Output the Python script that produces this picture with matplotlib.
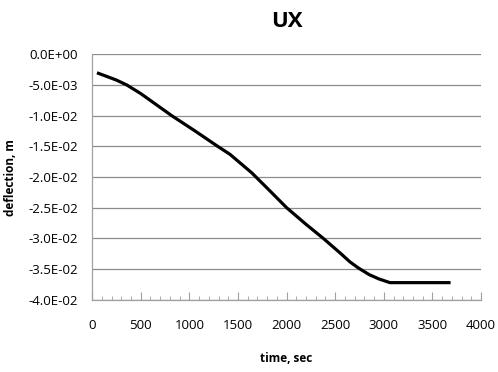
import numpy as np
import matplotlib.pyplot as plt
from matplotlib.ticker import MultipleLocator, FuncFormatter

# deflection history
time_s = [65, 150, 250, 357, 500, 819, 1050, 1292, 1418, 1641, 1800,
          2001, 2200, 2378, 2560, 2650, 2737, 2850, 2950, 3063, 3670]
ux_m = [-0.0031, -0.0036, -0.0042, -0.0050, -0.0064, -0.0100, -0.0124,
        -0.0150, -0.0163, -0.0193, -0.0218, -0.0250, -0.0277, -0.0300,
        -0.0325, -0.0338, -0.0348, -0.0359, -0.0366, -0.0372, -0.0372]

plt.rcParams['font.family'] = ['Open Sans', 'DejaVu Sans']

fig = plt.figure(figsize=(4.98, 3.72), dpi=100)
ax = fig.add_axes([0.185, 0.194, 0.781, 0.66])

ax.plot(time_s, ux_m, color='black', lw=2.3, solid_joinstyle='round')

ax.set_xlim(0, 4000)
ax.set_ylim(-0.04, 0)
ax.xaxis.set_major_locator(MultipleLocator(500))
ax.xaxis.set_minor_locator(MultipleLocator(100))
ax.yaxis.set_major_locator(MultipleLocator(0.005))


def sci(v, pos):
    s = f"{v:.1E}"
    return s.replace("-0.0E", "0.0E")


ax.yaxis.set_major_formatter(FuncFormatter(sci))

ax.grid(axis='y', color='#8c8c8c', lw=0.9)
ax.set_axisbelow(True)
for s in ['top', 'right']:
    ax.spines[s].set_visible(False)
for s in ['left', 'bottom']:
    ax.spines[s].set_color('#a0a0a0')
    ax.spines[s].set_linewidth(0.9)

ax.tick_params(axis='x', which='major', direction='in', length=6,
               color='#a0a0a0', labelsize=9.5, pad=14)
ax.tick_params(axis='x', which='minor', direction='in', length=3,
               color='#a0a0a0')
ax.tick_params(axis='y', length=0, labelsize=9.5, pad=10)

ax.set_title('UX', fontsize=16, fontweight='bold', pad=20)
ax.set_xlabel('time, sec', fontsize=8.5, fontweight='bold', labelpad=14)
ax.set_ylabel('deflection, m', fontsize=8.5, fontweight='bold', labelpad=8)

fig.savefig('out.png', dpi=100)
